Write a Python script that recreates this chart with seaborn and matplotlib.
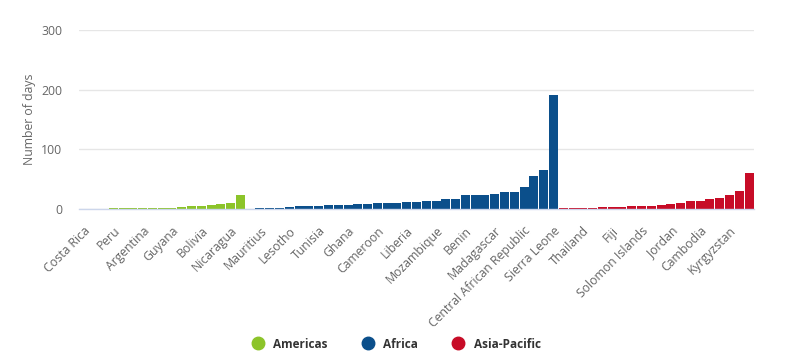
import matplotlib
matplotlib.use("Agg")
import matplotlib.pyplot as plt
from matplotlib.lines import Line2D
import seaborn as sns
import pandas as pd

# ---- data ----
americas_names = ["Costa Rica", "Americas 2", "Americas 3", "Peru", "Americas 5", "Americas 6",
                  "Argentina", "Americas 8", "Americas 9", "Guyana", "Americas 11", "Americas 12",
                  "Bolivia", "Americas 14", "Americas 15", "Nicaragua", "Americas 17"]
americas_days = [0, 0, 0, 2, 2, 2, 2, 2, 2, 2, 3, 5, 5, 7, 8, 10, 24]

africa_names = ["Africa 1", "Mauritius", "Africa 3", "Africa 4", "Lesotho", "Africa 6", "Africa 7",
                "Tunisia", "Africa 9", "Africa 10", "Ghana", "Africa 12", "Africa 13", "Cameroon",
                "Africa 15", "Africa 16", "Liberia", "Africa 18", "Africa 19", "Mozambique",
                "Africa 21", "Africa 22", "Benin", "Africa 24", "Africa 25", "Madagascar",
                "Africa 27", "Africa 28", "Central African Republic", "Africa 30", "Africa 31",
                "Sierra Leone"]
africa_days = [0, 2, 2, 2, 3, 5, 5, 5, 7, 7, 7, 8, 8, 10, 10, 10, 12, 12, 13, 13,
               17, 17, 23, 23, 23, 25, 28, 28, 37, 55, 65, 191]

asia_names = ["Asia-Pacific 1", "Asia-Pacific 2", "Thailand", "Asia-Pacific 4", "Asia-Pacific 5",
              "Fiji", "Asia-Pacific 7", "Asia-Pacific 8", "Solomon Islands", "Asia-Pacific 10",
              "Asia-Pacific 11", "Jordan", "Asia-Pacific 13", "Asia-Pacific 14", "Cambodia",
              "Asia-Pacific 16", "Asia-Pacific 17", "Kyrgyzstan", "Asia-Pacific 19", "Asia-Pacific 20"]
asia_days = [2, 2, 2, 2, 3, 3, 3, 5, 5, 5, 7, 8, 10, 13, 13, 17, 18, 23, 30, 60]

regions = ["Americas", "Africa", "Asia-Pacific"]
region_colors = ["#8cc42a", "#0b4f8b", "#c70c27"]
y_ticks = [0, 100, 200, 300]

df = pd.DataFrame({
    "country": americas_names + africa_names + asia_names,
    "days": americas_days + africa_days + asia_days,
    "region": ["Americas"] * len(americas_names) + ["Africa"] * len(africa_names)
              + ["Asia-Pacific"] * len(asia_names),
})

# ---- figure ----
sns.set_style("white")
plt.rcParams["font.family"] = ["Open Sans", "DejaVu Sans"]

fig = plt.figure(figsize=(7.87, 3.64), dpi=100)
ax = fig.add_axes([79 / 787, 1 - 209 / 364, (754 - 79) / 787, (209 - 30) / 364])

palette = dict(zip(regions, region_colors))
sns.barplot(data=df, x="country", y="days", hue="region", palette=palette,
            hue_order=regions, dodge=False, width=0.92, saturation=1,
            edgecolor="none", linewidth=0, legend=False, ax=ax)

n = len(df)
ax.set_xlim(-0.5, n - 0.5)
ax.set_ylim(0, 300)
ax.set_yticks(y_ticks)
ax.set_yticklabels([str(v) for v in y_ticks], fontsize=8.8, color="#666666")
ax.tick_params(axis="y", length=0, pad=12)
ax.yaxis.grid(True, color="#e6e6e6", linewidth=1)
ax.set_axisbelow(True)

shown = [i for i in range(0, n, 3)]
ax.set_xticks(shown)
ax.set_xticklabels([df["country"][i] for i in shown], rotation=45, ha="right",
                   rotation_mode="anchor", fontsize=8.8, color="#666666")
ax.tick_params(axis="x", length=6, width=1, color="#ccd6eb", pad=5)

for s in ["top", "right", "left"]:
    ax.spines[s].set_visible(False)
ax.spines["bottom"].set_color("#ccd6eb")
ax.spines["bottom"].set_linewidth(1)

ax.set_xlabel("")
ax.set_ylabel("Number of days", fontsize=8.8, color="#666666")
ax.yaxis.set_label_coords(-43 / 675, 0.5)

handles = [Line2D([0], [0], marker="o", linestyle="none", markersize=9,
                  markerfacecolor=c, markeredgecolor=c) for c in region_colors]
leg = fig.legend(handles, regions, loc="center", bbox_to_anchor=(0.5, 1 - 344 / 364),
                 ncol=3, frameon=False, handletextpad=0.3, columnspacing=2.4,
                 prop={"weight": "bold", "size": 8.5})
for t in leg.get_texts():
    t.set_color("#333333")

fig.savefig("out.png", dpi=100)
